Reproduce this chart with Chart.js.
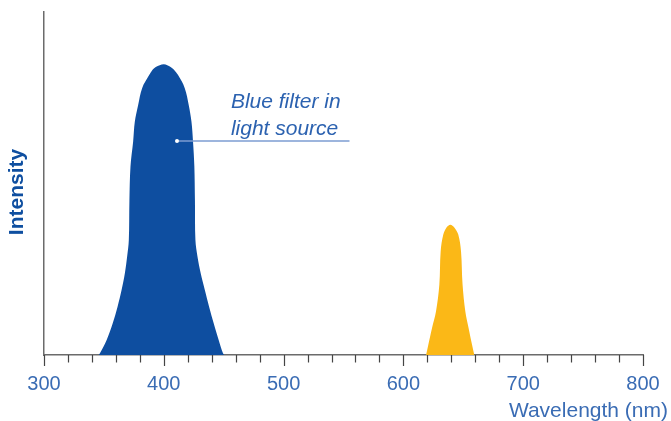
<!DOCTYPE html>
<html>
<head>
<meta charset="utf-8">
<script src="https://cdn.jsdelivr.net/npm/chart.js@4"></script>
<style>
  html, body { margin: 0; padding: 0; background: #fff; }
  #caixa { width: 671px; height: 421px; }
</style>
</head>
<body>
<div id="caixa"><canvas id="grafico"></canvas></div>
<script>
// blue light source band (nm, relative intensity)
const blueWavelengths = [345.5, 346.7, 352.3, 357.3, 361.4, 364.8, 367.5, 369.4, 370.8, 371.3, 372.2, 374.4, 375.8, 378.6, 381.9, 387.8, 390.8, 393.3, 400,
    405.7, 408.3, 411.9, 417.5, 420.8, 423.1, 424.4, 425.5, 426.0, 426.4, 428.1, 430.8, 434.2, 437.8, 441.7, 445.8, 449.4, 450.5];
const blueIntensity = [0, 0.5, 4.4, 9.2, 14.1, 19.0, 23.8, 28.7, 33.5, 45, 55, 62.2, 68, 72.9, 77.8, 81.6, 83.2, 84.0, 84.8,
    84.0, 83.2, 81.6, 77.8, 72.9, 68, 62.2, 55, 45, 33.5, 28.7, 23.8, 19.0, 14.1, 9.2, 4.4, 0.5, 0];

// yellow band
const yellowWavelengths = [618.9, 620.8, 623.9, 627.2, 630.0, 631.1, 633.3, 636.0, 639.2, 642.5, 645.8, 648.1, 649.4, 651.7, 654.4, 657.3, 659.2];
const yellowIntensity = [0, 3.0, 7.9, 12.7, 20.5, 30.2, 35.1, 37.2, 38.0, 37.2, 35.1, 30.2, 20.5, 12.7, 7.9, 3.0, 0];

const xLabelTicks = [300, 400, 500, 600, 700, 800];

const AZUL = '#0e4ea0';
const AMARELO = '#fbb817';
const TEXTO = '#3a6cb4';
const EIXO = '#6b6b6b';

function pares(xs, ys) {
    return xs.map((x, i) => ({ x, y: ys[i] }));
}

const extras = {
    id: 'extras',
    afterDraw(chart) {
        const ctx = chart.ctx;
        const xs = chart.scales.x;
        const ys = chart.scales.y;
        const base = ys.getPixelForValue(0);

        // ticks every 20 nm, longer at labelled ones
        ctx.save();
        ctx.strokeStyle = '#444';
        ctx.lineWidth = 1.2;
        for (let v = xs.min; v <= xs.max; v += 20) {
            const px = Math.round(xs.getPixelForValue(v)) + 0.5;
            const longo = xLabelTicks.includes(v);
            ctx.beginPath();
            ctx.moveTo(px, base);
            ctx.lineTo(px, base + (longo ? 11 : 7.5));
            ctx.stroke();
        }
        ctx.restore();

        // leader line + annotation
        ctx.save();
        const y0 = ys.getPixelForValue(62.4);
        const xa = xs.getPixelForValue(411);
        const xb = xs.getPixelForValue(555);
        ctx.strokeStyle = '#7d9dd2';
        ctx.lineWidth = 1.5;
        ctx.beginPath();
        ctx.moveTo(xa, y0);
        ctx.lineTo(xb, y0);
        ctx.stroke();
        ctx.fillStyle = '#ffffff';
        ctx.beginPath();
        ctx.arc(xa, y0, 2, 0, Math.PI * 2);
        ctx.fill();

        ctx.fillStyle = '#2c62b0';
        ctx.font = 'italic 21px "Liberation Sans", Arial, sans-serif';
        ctx.textAlign = 'left';
        ctx.textBaseline = 'middle';
        const xt = xs.getPixelForValue(456);
        ctx.fillText('Blue filter in', xt, ys.getPixelForValue(73.7));
        ctx.fillText('light source', xt, ys.getPixelForValue(65.8));

        // axis titles
        ctx.fillStyle = TEXTO;
        ctx.font = '21px "Liberation Sans", Arial, sans-serif';
        ctx.textAlign = 'right';
        ctx.fillText('Wavelength (nm)', chart.width - 3, 411);

        ctx.translate(17, 192);
        ctx.rotate(-Math.PI / 2);
        ctx.fillStyle = '#0f4fa0';
        ctx.font = 'bold 21px "Liberation Sans", Arial, sans-serif';
        ctx.textAlign = 'center';
        ctx.fillText('Intensity', 0, 0);
        ctx.restore();
    },
};

new Chart(document.getElementById('grafico'), {
    type: 'line',
    data: {
        datasets: [
            {
                data: pares(blueWavelengths, blueIntensity),
                backgroundColor: AZUL,
                borderWidth: 0,
                fill: 'origin',
                pointRadius: 0,
                tension: 0.35,
            },
            {
                data: pares(yellowWavelengths, yellowIntensity),
                backgroundColor: AMARELO,
                borderWidth: 0,
                fill: 'origin',
                pointRadius: 0,
                tension: 0.35,
            },
        ],
    },
    options: {
        responsive: true,
        maintainAspectRatio: false,
        animation: false,
        layout: { padding: { top: 12, right: 28, left: 0, bottom: 0 } },
        plugins: { legend: { display: false }, tooltip: { enabled: false } },
        scales: {
            x: {
                type: 'linear',
                min: 300,
                max: 800,
                afterFit: (s) => { s.height = 66; s.paddingLeft = 0; s.paddingRight = 0; },
                afterBuildTicks: (s) => { s.ticks = xLabelTicks.map((v) => ({ value: v })); },
                grid: { display: true, drawOnChartArea: false, drawTicks: false },
                border: { display: true, color: EIXO, width: 1.5 },
                ticks: {
                    color: TEXTO,
                    font: { family: '"Liberation Sans", Arial, sans-serif', size: 20 },
                    padding: 17,
                    maxRotation: 0,
                },
            },
            y: {
                min: 0,
                max: 100,
                afterFit: (s) => { s.width = 44; },
                grid: { display: true, drawOnChartArea: false, drawTicks: false },
                border: { display: true, color: EIXO, width: 1.5 },
                ticks: { display: false },
            },
        },
    },
    plugins: [extras],
});
</script>
</body>
</html>
